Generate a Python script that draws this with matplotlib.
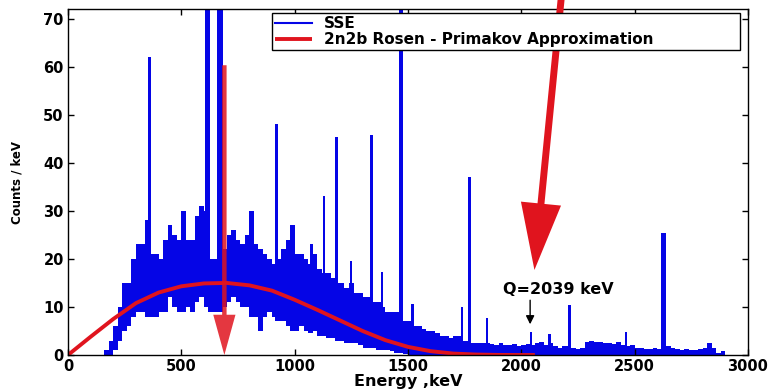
import numpy as np
import matplotlib.pyplot as plt

# Spectre SSE : bande entre enveloppe basse et haute, cases de 20 keV dès 160 keV
bin_start = 160
bin_width = 20
hi = [1, 3, 6, 10, 15, 15, 20, 23, 23, 28,
      21, 21, 20, 24, 27, 25, 24, 30, 24, 24,
      29, 31, 30, 20, 20, 21, 22, 25, 26, 24,
      23, 25, 30, 23, 22, 21, 20, 19, 20, 22,
      24, 27, 21, 21, 20, 19, 21, 18, 17, 17,
      16, 15, 15, 14, 15, 13, 13, 12, 12, 11,
      11, 10, 9, 9, 9, 8, 7, 7, 6, 6,
      5.5, 5, 5, 4.5, 4, 4, 3.5, 4, 4, 3,
      3, 2.5, 2.5, 2.5, 2.5, 2.2, 2, 2.5, 2, 2,
      2.2, 1.8, 2, 2.2, 2, 2.5, 2.8, 2, 2.5, 1.8,
      1.5, 1.8, 1.8, 1.5, 1.2, 1.5, 2.8, 3, 2.8, 2.8,
      2.5, 2.5, 2.2, 2.8, 2, 1.8, 2, 1.5, 1.5, 1.3,
      1.3, 1.5, 1.2, 1.2, 1.8, 1.5, 1.2, 1.0, 1.2, 1.0,
      1.0, 1.2, 1.5, 2.5, 1.5, 0.5, 0.8]
lo_low = [0, 0, 1, 3, 5, 6, 8, 9, 9, 8,
          8, 8, 9, 9, 12, 10, 9, 9, 10, 9,
          11, 12, 10, 9, 9, 9, 10, 11, 12, 11,
          10, 10, 8, 8, 5, 8, 9, 8, 7, 7,
          6, 5, 5, 6, 5, 4.5, 5, 4, 4, 3.5,
          3.5, 3, 3, 2.5, 2.5, 2.5, 2, 1.5, 1.5, 1.5,
          1, 1, 1, 0.8, 0.5, 0.5, 0.3]
lo = lo_low + [0.0] * (len(hi) - len(lo_low))

# Raies fines (énergie keV, hauteur, largeur keV)
peak_e = [360, 615, 672, 921, 1075, 1130, 1185, 1248, 1340, 1385, 1470,
          1520, 1737, 1772, 1850, 2043, 2124, 2213, 2461, 2628]
peak_h = [62, 80, 80, 48, 23, 33, 45.4, 19.5, 45.7, 17.3, 80,
          10.7, 10, 37, 7.6, 4.8, 4.4, 10.4, 4.8, 25.3]
peak_w = [14, 22, 26, 14, 10, 12, 14, 10, 14, 10, 18,
          10, 10, 14, 10, 10, 10, 12, 10, 24]

# Approximation de Rosen-Primakov
rp_e = [0, 100, 200, 300, 400, 500, 600, 700, 800, 900, 1000, 1100,
        1200, 1300, 1400, 1500, 1600, 1700, 1800, 1900, 2000, 2060]
rp_c = [0, 3.8, 7.5, 10.8, 13.0, 14.3, 14.9, 15.0, 14.5, 13.4, 11.5, 9.4,
        7.2, 5.0, 3.1, 1.7, 0.8, 0.3, 0.1, 0.02, 0.0, 0.0]

blue = '#0505e6'
red = '#e0141e'

fig = plt.figure(figsize=(7.75, 3.9), dpi=100)
ax = fig.add_axes([0.0877, 0.0897, 0.8774, 0.8872])

edges = bin_start + bin_width * np.arange(len(hi) + 1)
ax.fill_between(edges, lo + [lo[-1]], hi + [hi[-1]], step='post',
                color=blue, linewidth=0)
# les raies partent du bas de la bande
peak_bottom = [lo[int((e - bin_start) // bin_width)] for e in peak_e]
peak_top = [h - b for h, b in zip(peak_h, peak_bottom)]
ax.bar(peak_e, peak_top, width=peak_w, bottom=peak_bottom, color=blue, linewidth=0)
# ligne de légende seulement
ax.plot([], [], color=blue, lw=1.5, label='SSE')
ax.plot(rp_e, rp_c, color=red, lw=2.8, solid_capstyle='butt',
        label='2n2b Rosen - Primakov Approximation')

# grosses flèches rouges
ax.annotate('', xy=(690, 0), xytext=(690, 60.3),
            arrowprops=dict(arrowstyle='simple,head_length=29,head_width=16,tail_width=3.2',
                            mutation_scale=1, color=red, alpha=0.85, lw=0,
                            shrinkA=0, shrinkB=0))
ax.annotate('', xy=(2058, 17.7), xytext=(2184, 78), annotation_clip=False,
            arrowprops=dict(arrowstyle='simple,head_length=48,head_width=29,tail_width=5',
                            mutation_scale=1, color=red, lw=0,
                            shrinkA=0, shrinkB=0))

# Q-value
ax.annotate('', xy=(2039, 6.4), xytext=(2039, 11.4),
            arrowprops=dict(arrowstyle='-|>,head_length=0.5,head_width=0.25',
                            color='black', lw=1, shrinkA=0, shrinkB=0))
ax.text(1920, 13.6, 'Q=2039 keV', fontsize=11.5, fontweight='bold',
        ha='left', va='center')

ax.set_xlim(0, 3000)
ax.set_ylim(0, 72)
ax.set_xticks([0, 500, 1000, 1500, 2000, 2500, 3000])
ax.set_yticks([0, 10, 20, 30, 40, 50, 60, 70])
ax.tick_params(direction='in', top=True, right=True, length=4, width=1,
               labelsize=10.5, pad=3)
for lab in ax.get_xticklabels() + ax.get_yticklabels():
    lab.set_fontweight('bold')
for s in ax.spines.values():
    s.set_linewidth(1)

ax.set_xlabel('Energy ,keV', fontsize=11.5, fontweight='bold', labelpad=0)
ax.set_ylabel('Counts / keV', fontsize=8.5, fontweight='bold', labelpad=14)

leg = ax.legend(loc='upper left', bbox_to_anchor=(0.3, 0.888, 0.688, 0.1),
                mode='expand', borderaxespad=0, fancybox=False, framealpha=1,
                edgecolor='black', handlelength=2.4, handletextpad=0.8,
                labelspacing=0.05, borderpad=0.2,
                prop={'weight': 'bold', 'size': 11})
leg.get_frame().set_linewidth(1)

fig.savefig('out.png', dpi=100)
